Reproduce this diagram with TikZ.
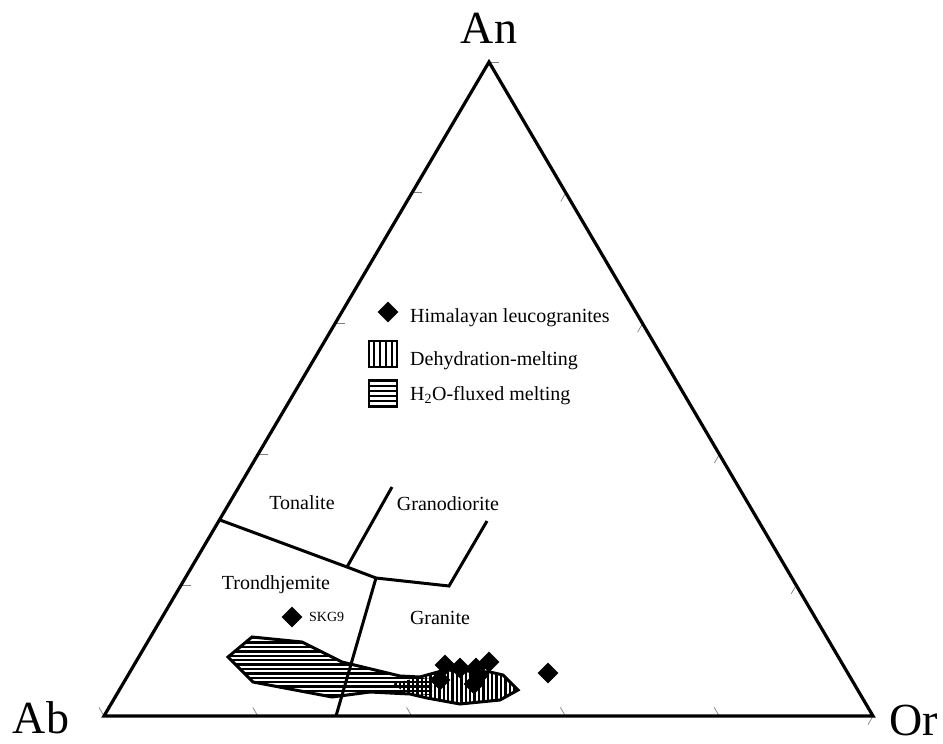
\documentclass[tikz,border=0pt]{standalone}
\usepackage{fontspec}
\setmainfont{Liberation Serif}
\usetikzlibrary{shapes.geometric,calc}
\begin{document}
\begin{tikzpicture}[x=1pt,y=-1pt,
  edge/.style={line width=3.2pt, line join=miter},
  bnd/.style={line width=3pt, line join=miter},
  tickmark/.style={gray, line width=0.7pt},
  lab/.style={font=\fontsize{20}{24}\selectfont, inner sep=0pt, anchor=base},
  leglab/.style={font=\fontsize{20}{24}\selectfont, inner sep=0pt, anchor=base west},
  vlab/.style={font=\fontsize{46}{50}\selectfont, inner sep=0pt, anchor=base},
  dmark/.style={diamond, fill=black, inner sep=0pt, minimum width=21pt, minimum height=21pt},
  legbox/.style={draw, line width=2.4pt, inner sep=0pt, minimum width=28pt, minimum height=26pt},
]
\useasboundingbox (0,0) rectangle (943,744);

% vertices
\coordinate (Ab) at (104,716);
\coordinate (An) at (489,62);
\coordinate (Or) at (873,716);

% ticks
\foreach \f in {0,0.2,0.4,0.6,0.8}
  \draw[tickmark] ($(Ab)!\f!(Or)$) -- ++(-5,-8.6);
\foreach \f in {0.2,0.4,0.6,0.8,1}
  \draw[tickmark] ($(Ab)!\f!(An)$) -- ++(10,0);
\foreach \f in {0.2,0.4,0.6,0.8,1}
  \draw[tickmark] ($(An)!\f!(Or)$) -- ++(-5,8.6);

% hatched fields
\begin{scope}
  \clip (228,657) -- (252,637) -- (302,642) -- (342,662) -- (400,676) -- (432,679)
        -- (432,695) -- (410,694) -- (370,692) -- (332,697) -- (253,682) -- cycle;
  \foreach \y in {637,641.4,...,700} \fill (220,\y) rectangle (450,\y+2.3);
\end{scope}
\begin{scope}
  \clip (392,684) -- (420,677) -- (445,670) -- (490,672) -- (503,675) -- (518,690)
        -- (500,700) -- (460,704) -- (427,698) -- (405,692) -- cycle;
  \foreach \x in {381,385.4,...,522} \fill (\x,660) rectangle (\x+2.3,710);
\end{scope}
\draw[bnd] (228,657) -- (252,637) -- (302,642) -- (342,662) -- (400,676) -- (420,677)
  -- (445,670) -- (490,672) -- (503,675) -- (518,690) -- (500,700) -- (460,704)
  -- (427,698) -- (410,694) -- (370,692) -- (332,697) -- (253,682) -- cycle;

% classification boundaries
\coordinate (c1) at (220,520);
\coordinate (c2) at (347,567);
\coordinate (c3) at (376,578);
\coordinate (c4) at (449,586);
\coordinate (c5) at (487,521);
\coordinate (c6) at (392,487);
\coordinate (c7) at (336,716);
\draw[bnd] (c1) -- (c2) -- (c3) -- (c4) -- (c5);
\draw[bnd] (c2) -- (c6);
\draw[bnd] (c3) -- (c7);

% triangle
\draw[edge] (Ab) -- (An) -- (Or) -- cycle;

% vertex labels
\node[vlab] (lAn) at (489,43) {An};
\node[vlab] (lAb) at (41,733) {Ab};
\node[vlab] (lOr) at (914,735) {Or};

% field labels
\node[lab] (ton) at (302,509) {Tonalite};
\node[lab] (gdi) at (448,510) {Granodiorite};
\node[lab] (tro) at (276,589) {Trondhjemite};
\node[lab] (gra) at (440,624) {Granite};

% data
\node[dmark] (skg) at (292,617) {};
\node[font=\fontsize{14}{16}\selectfont, inner sep=0pt, anchor=base west] (skgl) at (309,621) {SKG9};
\node[dmark] (d1) at (445,665) {};
\node[dmark] (d2) at (460,668) {};
\node[dmark] (d3) at (476,668) {};
\node[dmark] (d4) at (489,662) {};
\node[dmark] (d5) at (440,680) {};
\node[dmark] (d6) at (474,684) {};
\node[dmark] (d7) at (479,675) {};
\node[dmark] (d8) at (548,673) {};

% legend
\node[dmark] (lg1) at (388,312) {};
\node[leglab] (lt1) at (410,322) {Himalayan leucogranites};
\node[legbox] (lg2) at (383,354) {};
\foreach \x in {-9,-3,3,9} \fill ($(lg2.center)+(\x-1.3,-13)$) rectangle ($(lg2.center)+(\x+1.3,13)$);
\node[leglab] (lt2) at (410,365) {Dehydration-melting};
\node[legbox] (lg3) at (383,393.5) {};
\foreach \y in {-7.5,-2.5,2.5,7.5} \fill ($(lg3.center)+(-14,\y-1.2)$) rectangle ($(lg3.center)+(14,\y+1.2)$);
\node[leglab] (lt3) at (410,400) {H\textsubscript{2}O-fluxed melting};
\end{tikzpicture}
\end{document}
